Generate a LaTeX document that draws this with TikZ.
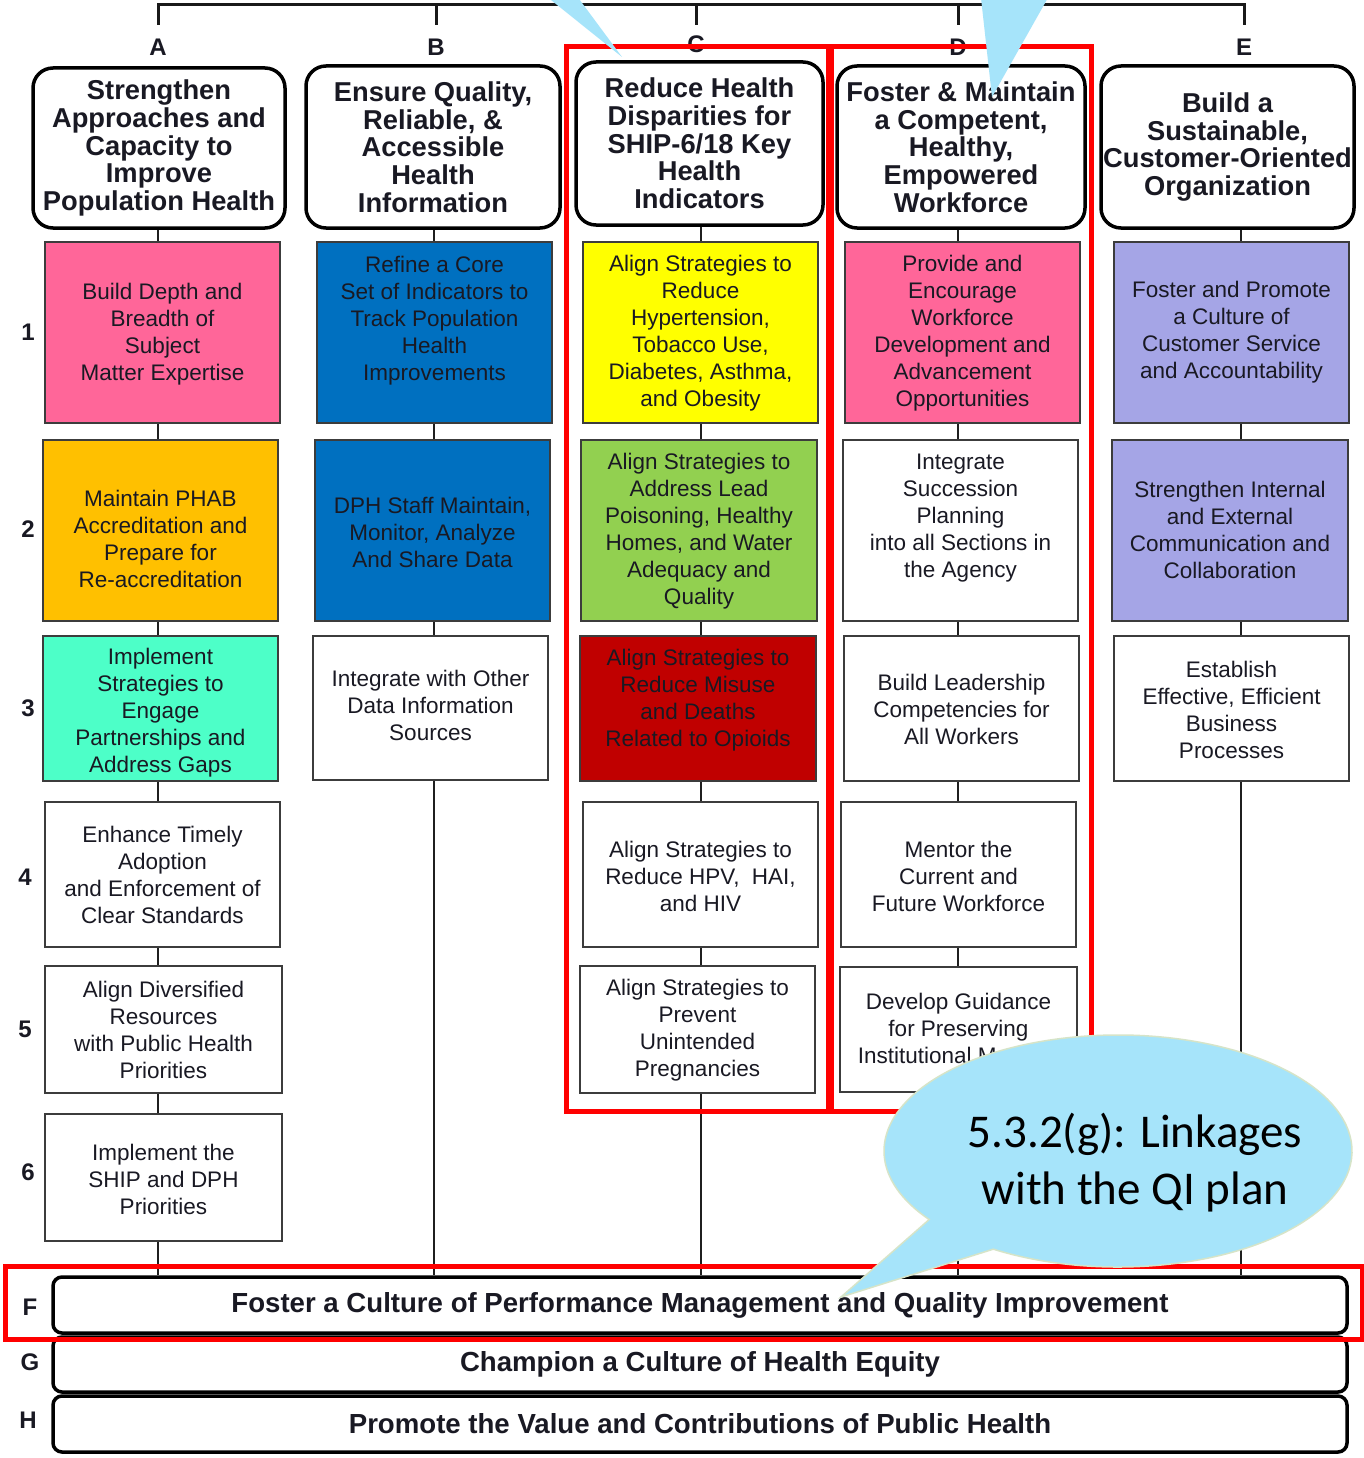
\documentclass[tikz,border=0pt]{standalone}
\usepackage{fontspec}
\setmainfont{Liberation Sans}
\newfontfamily\callfont{Carlito}
\usetikzlibrary{calc}
\definecolor{cpink}{RGB}{255,102,153}
\definecolor{cblue}{RGB}{0,112,192}
\definecolor{cyellow}{RGB}{255,255,0}
\definecolor{cgreen}{RGB}{146,208,80}
\definecolor{cdred}{RGB}{192,0,0}
\definecolor{clav}{RGB}{165,165,230}
\definecolor{corange}{RGB}{255,192,0}
\definecolor{caqua}{RGB}{77,255,200}
\definecolor{ctxt}{RGB}{25,25,35}
\definecolor{cbord}{RGB}{60,60,60}
\definecolor{ccall}{RGB}{166,228,250}
\definecolor{ccallb}{RGB}{214,228,200}
\newcommand\stratbox[8]{%
  \node[obx, fill=#6, minimum width={#4-#2}, minimum height={#5-#3}] (#1) at ({(#2+#4)/2},{(#3+#5)/2}) {};
  \node[otx] (#1t) at ({(#2+#4)/2},#7) {#8};
}
\begin{document}
\begin{tikzpicture}[x=1pt,y=-1pt,
  obx/.style={draw=cbord, line width=2pt, inner sep=0pt},
  otx/.style={align=center, inner sep=0pt, text=ctxt, font=\fontsize{22.5}{27}\selectfont},
  hdr/.style={draw=black, line width=3.5pt, rounded corners=20pt, fill=white, align=center, inner sep=0pt, text=ctxt, font=\bfseries\fontsize{27.3}{27.7}\selectfont},
  barbox/.style={draw=black, line width=3.5pt, rounded corners=9pt, fill=white, minimum width=1294, inner sep=0pt, text=ctxt, font=\bfseries\fontsize{27.6}{27.6}\selectfont},
  lbl/.style={inner sep=0pt, text=ctxt, font=\bfseries\fontsize{24}{24}\selectfont},
  conn/.style={line width=2.5pt, draw=black!88},
  brk/.style={line width=3pt, draw=black!90},
  redbox/.style={draw=red, line width=5pt},
  callout/.style={fill=ccall, draw=ccallb, line width=1.5pt}
]
\useasboundingbox (0,0) rectangle (1364,1458);
\fill[white] (0,0) rectangle (1364,1458);

% column spine coordinates
\coordinate (xA) at (158,0);
\coordinate (xB) at (434,0);
\coordinate (xC) at (701,0);
\coordinate (xD) at (958,0);
\coordinate (xE) at (1241,0);

% top bracket
\coordinate (bA) at (158,5);
\coordinate (bE) at (1244,5);
\coordinate (tA) at (158,25);
\coordinate (tB) at (436,25);
\coordinate (tC) at (696,25);
\coordinate (tD) at (958,25);
\coordinate (tE) at (1244,25);
\draw[brk] (tA) -- (bA) -- (bE) -- (tE);
\foreach \t in {tB,tC,tD} \draw[brk] (\t) -- (\t |- bA);

% column letters
\node[lbl] (LA) at (158,47) {A};
\node[lbl] (LB) at (436,47) {B};
\node[lbl] (LC) at (696,44) {C};
\node[lbl] (LD) at (958,47) {D};
\node[lbl] (LE) at (1244,47) {E};

% header boxes
\node[hdr, minimum width=252, minimum height=160] (HA) at (159,148) {Strengthen\\Approaches and\\Capacity to\\Improve\\Population Health};
\node[hdr, minimum width=254, minimum height=162] (HB) at (433,147) {Ensure Quality,\\Reliable, \&\\Accessible\\Health\\Information};
\node[hdr, minimum width=247, minimum height=163] (HC) at (699.5,143.5) {Reduce Health\\Disparities for\\SHIP-6/18 Key\\Health\\Indicators};
\node[hdr, minimum width=248, minimum height=162] (HD) at (961,147) {Foster \& Maintain\\a Competent,\\Healthy,\\Empowered\\Workforce};
\node[hdr, minimum width=253, minimum height=162] (HE) at (1227.5,147) {Build a\\Sustainable,\\Customer-Oriented\\Organization};

% bars
\node[barbox, minimum height=56] (F) at (700,1305) {Foster a Culture of Performance Management and Quality Improvement};
\node[barbox, minimum height=55] (G) at (700,1364.5) {Champion a Culture of Health Equity};
\node[barbox, minimum height=56] (H) at (700,1424) {Promote the Value and Contributions of Public Health};

% strategy boxes
\stratbox{A1}{45}{242}{280}{423}{cpink}{334}{Build Depth and\\Breadth of\\Subject\\Matter Expertise}
\stratbox{B1}{317}{242}{552}{423}{cblue}{321}{Refine a Core\\Set of Indicators to\\Track Population\\Health\\Improvements}
\stratbox{C1}{583}{242}{818}{423}{cyellow}{333}{Align Strategies to\\Reduce\\Hypertension,\\Tobacco Use,\\Diabetes, Asthma,\\and Obesity}
\stratbox{D1}{845}{242}{1080}{423}{cpink}{333}{Provide and\\Encourage\\Workforce\\Development and\\Advancement\\Opportunities}
\stratbox{E1}{1114}{242}{1349}{423}{clav}{332}{Foster and Promote\\a Culture of\\Customer Service\\and Accountability}

\stratbox{A2}{43}{440}{278}{621}{corange}{539}{Maintain PHAB\\Accreditation and\\Prepare for\\Re-accreditation}
\stratbox{B2}{315}{440}{550}{621}{cblue}{532}{DPH Staff Maintain,\\Monitor, Analyze\\And Share Data}
\stratbox{C2}{581}{440}{817}{621}{cgreen}{531}{Align Strategies to\\Address Lead\\Poisoning, Healthy\\Homes, and Water\\Adequacy and\\Quality}
\stratbox{D2}{843}{440}{1078}{621}{white}{518}{Integrate\\Succession\\Planning\\into all Sections in\\the Agency}
\stratbox{E2}{1112}{440}{1348}{621}{clav}{530}{Strengthen Internal\\and External\\Communication and\\Collaboration}

\stratbox{A3}{43}{636}{278}{781}{caqua}{713}{Implement\\Strategies to\\Engage\\Partnerships and\\Address Gaps}
\stratbox{B3}{313}{636}{548}{780}{white}{705}{Integrate with Other\\Data Information\\Sources}
\stratbox{C3}{580}{636}{816}{781}{cdred}{700}{Align Strategies to\\Reduce Misuse\\and Deaths\\Related to Opioids}
\stratbox{D3}{844}{636}{1079}{781}{white}{709}{Build Leadership\\Competencies for\\All Workers}
\stratbox{E3}{1114}{636}{1349}{781}{white}{710}{Establish\\Effective, Efficient\\Business\\Processes}

\stratbox{A4}{45}{802}{280}{947}{white}{875}{Enhance Timely\\Adoption\\and Enforcement of\\Clear Standards}
\stratbox{C4}{583}{802}{818}{947}{white}{876}{Align Strategies to\\Reduce HPV,\ \ HAI,\\and HIV}
\stratbox{D4}{841}{802}{1076}{947}{white}{876}{Mentor the\\Current and\\Future Workforce}

\stratbox{A5}{45}{966}{282}{1093}{white}{1030}{Align Diversified\\Resources\\with Public Health\\Priorities}
\stratbox{C5}{580}{966}{815}{1093}{white}{1030}{Align Strategies to\\Prevent\\Unintended\\Pregnancies}
\stratbox{D5}{840}{967}{1077}{1092}{white}{1031}{Develop Guidance\\for Preserving\\Institutional Memory}

\stratbox{A6}{45}{1114}{282}{1241}{white}{1179}{Implement the\\SHIP and DPH\\Priorities}

% connectors
\foreach \a/\b/\c in {HA/A1/xA, A1/A2/xA, A2/A3/xA, A3/A4/xA, A4/A5/xA, A5/A6/xA, A6/F/xA,
                      HB/B1/xB, B1/B2/xB, B2/B3/xB, B3/F/xB,
                      HC/C1/xC, C1/C2/xC, C2/C3/xC, C3/C4/xC, C4/C5/xC, C5/F/xC,
                      HD/D1/xD, D1/D2/xD, D2/D3/xD, D3/D4/xD, D4/D5/xD, D5/F/xD,
                      HE/E1/xE, E1/E2/xE, E2/E3/xE, E3/F/xE}
  \draw[conn] (\a.south -| \c) -- (\b.north -| \c);

% row numbers and bar labels
\node[lbl] (N1) at (28,332) {1};
\node[lbl] (N2) at (28,529) {2};
\node[lbl] (N3) at (28,708) {3};
\node[lbl] (N4) at (25,877) {4};
\node[lbl] (N5) at (25,1029) {5};
\node[lbl] (N6) at (28,1172) {6};
\node[lbl] (LF) at (30,1307) {F};
\node[lbl] (LG) at (30,1362) {G};
\node[lbl] (LH) at (28,1420) {H};

% red highlight frames
\draw[redbox] (566,47) rectangle (828,1111);
\draw[redbox] (831,47) rectangle (1091,1111);
\draw[redbox] (5,1266) rectangle (1362,1339);

% callout tails from above
\coordinate (w1a) at (526,-20);
\coordinate (w1b) at (565,-20);
\coordinate (w1t) at (622,57);
\fill[ccall] (w1a) -- (w1b) -- (w1t) -- cycle;
\coordinate (w2a) at (979,-20);
\coordinate (w2b) at (1058,-20);
\coordinate (w2t) at (992,97);
\fill[ccall] (w2a) -- (w2b) -- (w2t) -- cycle;

% bottom callout
\coordinate (cc) at (1118,1151);
\coordinate (ctip) at (841,1297);
\draw[callout] ($(cc)+(237.8:234pt and 116pt)$) arc[start angle=237.8, end angle=576.2, x radius=234pt, y radius=116pt] -- (ctip) -- cycle;
\node[align=center, inner sep=0pt, text=black, font=\callfont\fontsize{47}{57}\selectfont] (Q) at (1135,1163) {5.3.2(g): Linkages\\with the QI plan};
\end{tikzpicture}
\end{document}
